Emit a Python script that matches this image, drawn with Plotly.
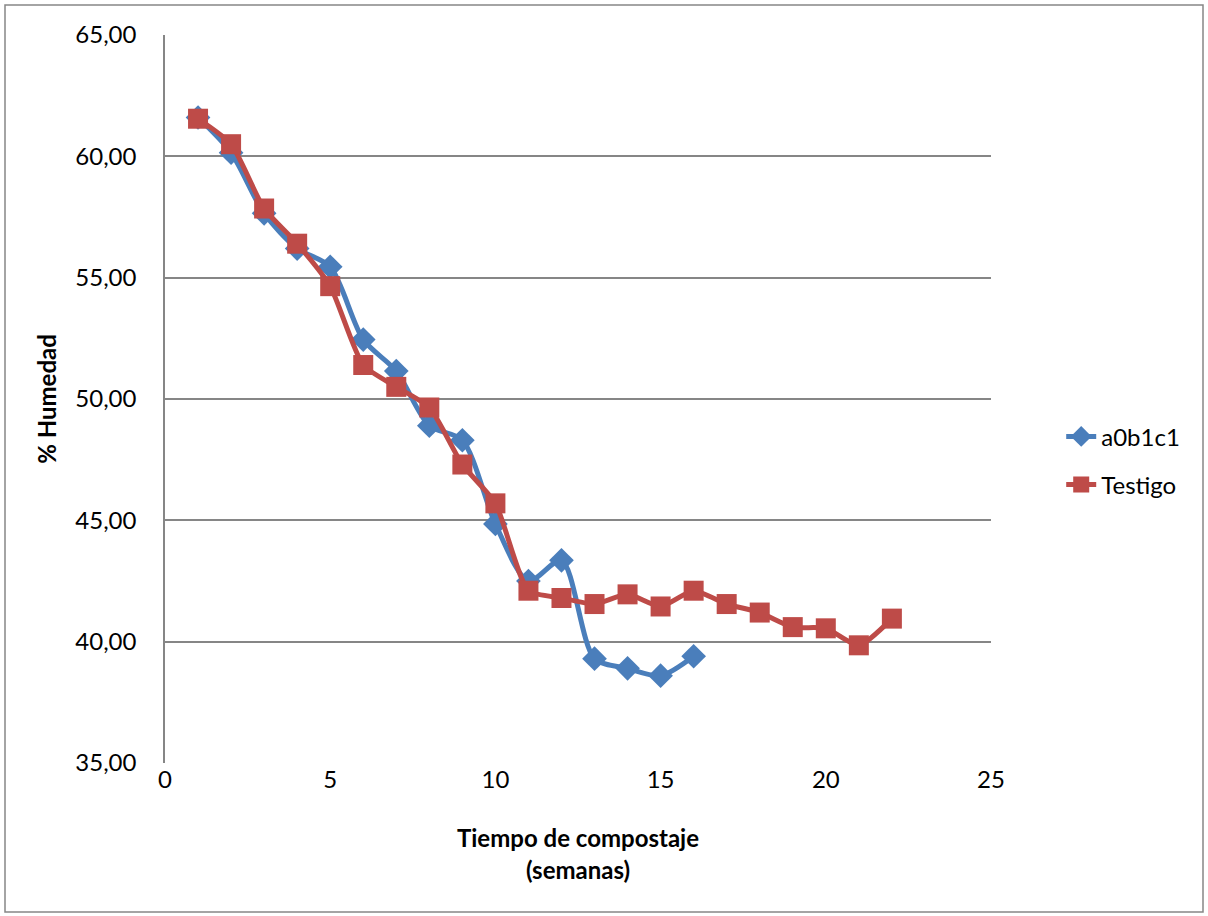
import plotly.graph_objects as go

semanas_a = list(range(1, 17))
a0b1c1 = [61.6, 60.15, 57.65, 56.2, 55.45, 52.45, 51.15, 48.9, 48.3, 44.85,
          42.5, 43.35, 39.3, 38.9, 38.6, 39.4]
semanas_t = list(range(1, 23))
testigo = [61.55, 60.5, 57.85, 56.4, 54.65, 51.4, 50.5, 49.65, 47.3, 45.7,
           42.1, 41.8, 41.55, 41.95, 41.45, 42.1, 41.55, 41.2, 40.6, 40.55,
           39.85, 40.95]

font_family = "Lato, Carlito, Calibri, sans-serif"

fig = go.Figure()
fig.add_trace(go.Scatter(
    x=semanas_a, y=a0b1c1, name="a0b1c1", mode="lines+markers",
    line=dict(color="#4A7EBB", width=5, shape="spline", smoothing=0.8),
    marker=dict(symbol="diamond", size=19, color="#4A7EBB"),
    legend="legend",
))
fig.add_trace(go.Scatter(
    x=semanas_t, y=testigo, name="Testigo", mode="lines+markers",
    line=dict(color="#BE4B48", width=5, shape="spline", smoothing=0.6),
    marker=dict(symbol="square", size=20, color="#BE4B48"),
    legend="legend2",
))

leg_common = dict(x=1.085, xanchor="left", yanchor="middle",
                  font=dict(size=24), bgcolor="rgba(0,0,0,0)")

fig.update_layout(
    width=1208, height=916,
    margin=dict(l=165, r=217, t=35, b=153),
    paper_bgcolor="white", plot_bgcolor="white",
    separators=",.",
    font=dict(family=font_family, size=24, color="black"),
    showlegend=True,
    legend=dict(y=0.448, **leg_common),
    legend2=dict(y=0.382, **leg_common),
    xaxis=dict(range=[0, 25], dtick=5, tick0=0, showgrid=False,
               zeroline=False, showline=False, ticks="",
               title=dict(text="<b>Tiempo de compostaje<br>(semanas)</b>",
                          font=dict(size=24), standoff=38)),
    yaxis=dict(range=[35, 65], dtick=5, tick0=35, tickformat=".2f",
               showgrid=True, gridcolor="#868686", gridwidth=1.5,
               zeroline=False, showline=True, linecolor="#868686",
               linewidth=1.5, ticks="", ticklabelstandoff=22,
               title=dict(text="<b>% Humedad</b>", font=dict(size=24),
                          standoff=12)),
    shapes=[dict(type="rect", xref="paper", yref="paper",
                 xsizemode="pixel", ysizemode="pixel",
                 xanchor=0, yanchor=0,
                 x0=-160, x1=1038, y0=-149, y1=758,
                 line=dict(color="#868686", width=1.5),
                 fillcolor="rgba(0,0,0,0)", layer="below")],
)

fig.write_html("out.html")
